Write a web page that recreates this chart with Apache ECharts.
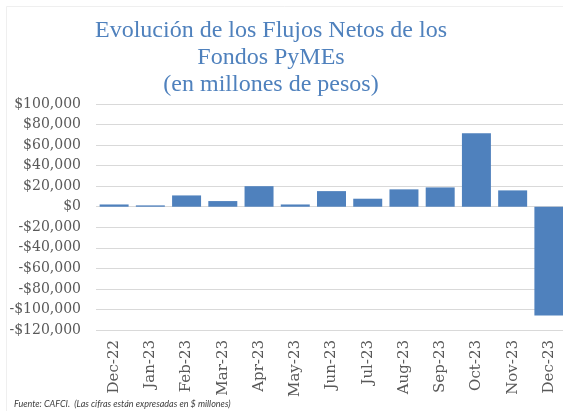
<!DOCTYPE html>
<html>
<head>
<meta charset="utf-8">
<script src="https://cdn.jsdelivr.net/npm/echarts@6/dist/echarts.min.js"></script>
<style>
  html, body { margin: 0; padding: 0; background: #fff; }
  #chart { width: 563px; height: 411px; }
</style>
</head>
<body>
<div id="chart"></div>
<script>
// meses
const months = ['Dec-22', 'Jan-23', 'Feb-23', 'Mar-23', 'Apr-23', 'May-23', 'Jun-23',
  'Jul-23', 'Aug-23', 'Sep-23', 'Oct-23', 'Nov-23', 'Dec-23']
// flujos netos (millones de pesos)
const netFlows = [2200, 1300, 11000, 5500, 20000, 2200, 15200, 7800, 16900, 18800, 71500, 15900, -106000]
const titleLines = ['Evolución de los Flujos Netos de los', 'Fondos PyMEs', '(en millones de pesos)']
const sourceNote = 'Fuente: CAFCI.  (Las cifras están expresadas en $ millones)'

const fmtPesos = v => (v < 0 ? '-$' : '$') + Math.abs(v).toLocaleString('en-US')

let myChart = echarts.init(document.getElementById('chart'))
let option = {
  animation: false,
  title: {
    text: titleLines.join('\n'),
    left: 266,
    textAlign: 'center',
    top: 12,
    textStyle: {
      fontFamily: 'Liberation Serif',
      fontWeight: 'normal',
      fontSize: 24,
      lineHeight: 27,
      color: '#4F81BD'
    }
  },
  graphic: [
    // borde muy tenue del recuadro original
    {
      type: 'polyline',
      shape: { points: [[6.5, 411], [6.5, 6.5], [563, 6.5]] },
      style: { stroke: '#efefef', lineWidth: 1, fill: null },
      silent: true
    },
    {
      type: 'text',
      left: 14,
      top: 400,
      style: {
        text: sourceNote,
        font: 'italic 9px Lato',
        fill: '#404040'
      }
    }
  ],
  grid: {
    left: 96,
    right: -4,
    top: 104,
    bottom: 81,
    outerBoundsMode: 'none'
  },
  xAxis: {
    type: 'category',
    data: months,
    axisLine: { show: false },
    axisTick: { show: false },
    axisLabel: {
      rotate: 90,
      interval: 0,
      margin: 10,
      fontFamily: 'DejaVu Serif',
      fontSize: 15,
      color: '#595959'
    }
  },
  yAxis: {
    type: 'value',
    min: -120000,
    max: 100000,
    interval: 20000,
    axisLine: { show: false },
    axisTick: { show: false },
    splitLine: { lineStyle: { color: '#d9d9d9', width: 1 } },
    axisLabel: {
      margin: 15,
      fontFamily: 'DejaVu Serif',
      fontSize: 14,
      color: '#595959',
      formatter: fmtPesos
    }
  },
  series: [
    {
      type: 'bar',
      data: netFlows,
      barCategoryGap: '20%',
      itemStyle: { color: '#4F81BD' }
    }
  ]
}
myChart.setOption(option)
</script>
</body>
</html>
